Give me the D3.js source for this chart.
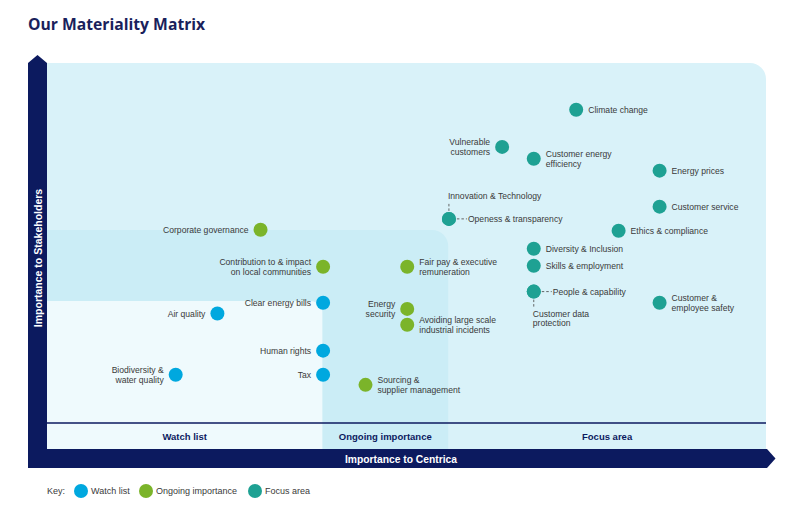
<!DOCTYPE html>
<html>
<head>
<meta charset="utf-8">
<script src="https://cdn.jsdelivr.net/npm/d3@7/dist/d3.min.js"></script>
<style>
  html, body { margin: 0; padding: 0; background: #ffffff; }
  svg { display: block; }
</style>
</head>
<body>
<svg id="chart" width="804" height="520"></svg>
<script>
// ---------------- DATA ----------------
const title = "Our Materiality Matrix";
const xAxisTitle = "Importance to Centrica";
const yAxisTitle = "Importance to Stakeholders";

const issues = [
  "Climate change", "Vulnerable\ncustomers", "Customer energy\nefficiency", "Energy prices",
  "Customer service", "Innovation & Technology", "Openess & transparency", "Ethics & compliance",
  "Diversity & Inclusion", "Skills & employment", "People & capability", "Customer data\nprotection",
  "Customer &\nemployee safety", "Corporate governance", "Contribution to & impact\non local communities",
  "Fair pay & executive\nremuneration", "Energy\nsecurity", "Avoiding large scale\nindustrial incidents",
  "Sourcing &\nsupplier management", "Clear energy bills", "Air quality", "Human rights", "Tax",
  "Biodiversity &\nwater quality"
];
// importance to Centrica (0-10)
const importanceCentrica = [
  7.36, 6.33, 6.77, 8.52,
  8.52, 5.59, 5.59, 7.95,
  6.77, 6.77, 6.77, 6.77,
  8.52, 2.97, 3.84,
  5.01, 5.01, 5.01,
  4.43, 3.84, 2.37, 3.84, 3.84,
  1.79
];
// importance to stakeholders (0-10)
const importanceStakeholders = [
  8.70, 7.67, 7.34, 7.01,
  6.01, 5.67, 5.67, 5.34,
  4.84, 4.37, 3.65, 3.65,
  3.34, 5.37, 4.34,
  4.34, 3.17, 2.73,
  1.06, 3.34, 3.04, 2.01, 1.34,
  1.34
];
const issueGroup = [
  "Focus area", "Focus area", "Focus area", "Focus area",
  "Focus area", "Focus area", "Focus area", "Focus area",
  "Focus area", "Focus area", "Focus area", "Focus area",
  "Focus area", "Ongoing importance", "Ongoing importance",
  "Ongoing importance", "Ongoing importance", "Ongoing importance",
  "Ongoing importance", "Watch list", "Watch list", "Watch list", "Watch list",
  "Watch list"
];
// label placement relative to its dot
const labelSide = [
  "right", "left", "right", "right",
  "right", "leaderUp", "leaderRight", "right",
  "right", "right", "leaderRight", "leaderDown",
  "right", "left", "left",
  "right", "left", "right",
  "right", "left", "left", "left", "left",
  "left"
];

const groups = ["Watch list", "Ongoing importance", "Focus area"];
// upper bounds of each zone (x = Centrica, y = Stakeholders), 0-10 scale
const zoneMaxX = [3.83, 5.58, 10];
const zoneMaxY = [3.39, 5.36, 10];

// ---------------- STYLE ----------------
const navy = "#0c1a5f";
const groupColor = d3.scaleOrdinal().domain(groups).range(["#00a8df", "#7bb42a", "#1ea193"]);
const zoneFill = d3.scaleOrdinal().domain(groups).range(["#effafd", "#cbedf6", "#d9f2f9"]);
const labelFont = "'Liberation Sans', Arial, Helvetica, sans-serif";

const svg = d3.select("#chart");

// ---------------- SCALES ----------------
const plot = { left: 47, right: 766, top: 63, bottom: 423, stripBottom: 449 };
const x = d3.scaleLinear().domain([0, 10]).range([plot.left, plot.right]);
const y = d3.scaleLinear().domain([0, 10]).range([plot.bottom, plot.top]);

// title
svg.append("text")
  .attr("x", 28).attr("y", 30)
  .attr("font-family", "'Open Sans', sans-serif")
  .attr("font-weight", 700).attr("font-size", 15.7)
  .attr("fill", "#1a1f5c")
  .text(title);

// zones: drawn from largest to smallest, rounded top-right corner
function zonePath(x1, yTop, r) {
  const x0 = plot.left, yB = plot.stripBottom;
  return `M${x0},${yB}V${yTop}H${x1 - r}A${r},${r} 0 0 1 ${x1},${yTop + r}V${yB}Z`;
}
const zoneOrder = [2, 1, 0];
svg.append("g").selectAll("path")
  .data(zoneOrder)
  .join("path")
  .attr("d", i => zonePath(x(zoneMaxX[i]), y(zoneMaxY[i]), i === 0 ? 12 : 16))
  .attr("fill", i => zoneFill(groups[i]));

// divider line above strip
svg.append("line")
  .attr("x1", plot.left).attr("x2", plot.right)
  .attr("y1", plot.bottom).attr("y2", plot.bottom)
  .attr("stroke", navy).attr("stroke-width", 1.6);

// strip labels
svg.append("g").selectAll("text")
  .data(groups)
  .join("text")
  .attr("x", (g, i) => (x(i === 0 ? 0 : zoneMaxX[i - 1]) + x(zoneMaxX[i])) / 2)
  .attr("y", (plot.bottom + plot.stripBottom) / 2 + 3.5)
  .attr("text-anchor", "middle")
  .attr("font-family", labelFont).attr("font-weight", 700).attr("font-size", 9.5)
  .attr("fill", navy)
  .text(g => g);

// vertical axis bar with arrow
svg.append("path")
  .attr("d", `M28,${plot.stripBottom}V${plot.top}L37.5,55L${plot.left},${plot.top}V${plot.stripBottom}Z`)
  .attr("fill", navy);
// horizontal axis bar with arrow
svg.append("path")
  .attr("d", `M28,${plot.stripBottom}H767L775.5,${(plot.stripBottom + 468) / 2}L767,468H28Z`)
  .attr("fill", navy);

svg.append("text")
  .attr("x", 401).attr("y", 462.5)
  .attr("text-anchor", "middle")
  .attr("font-family", labelFont).attr("font-weight", 700).attr("font-size", 10.3)
  .attr("fill", "#ffffff")
  .text(xAxisTitle);

svg.append("text")
  .attr("transform", `translate(41.5,258) rotate(-90)`)
  .attr("text-anchor", "middle")
  .attr("font-family", labelFont).attr("font-weight", 700).attr("font-size", 10.5)
  .attr("fill", "#ffffff")
  .text(yAxisTitle);

// ---------------- POINTS ----------------
const data = issues.map((name, i) => ({
  name, cx: importanceCentrica[i], sy: importanceStakeholders[i],
  group: issueGroup[i], side: labelSide[i]
}));

const r = 7;
const lineH = 9.6;
const labelColor = "#3a3a3a";
const pts = svg.append("g");

// leader lines
data.forEach(d => {
  const px = x(d.cx), py = y(d.sy);
  let seg = null;
  if (d.side === "leaderUp") seg = [px, py - r - 1, px, py - r - 10];
  if (d.side === "leaderDown") seg = [px, py + r + 1, px, py + r + 10];
  if (d.side === "leaderRight") seg = [px + r + 1, py, px + r + 11, py];
  if (seg) {
    pts.append("line")
      .attr("x1", seg[0]).attr("y1", seg[1]).attr("x2", seg[2]).attr("y2", seg[3])
      .attr("stroke", "#555").attr("stroke-width", 0.9)
      .attr("stroke-dasharray", "2.5,2");
  }
});

pts.selectAll("circle")
  .data(data)
  .join("circle")
  .attr("cx", d => x(d.cx))
  .attr("cy", d => y(d.sy))
  .attr("r", r)
  .attr("fill", d => groupColor(d.group));

data.forEach(d => {
  const px = x(d.cx), py = y(d.sy);
  const lines = d.name.split("\n");
  let tx, anchor, firstY;
  const n = lines.length;
  if (d.side === "right") { tx = px + r + 5; anchor = "start"; firstY = py - (n - 1) * lineH / 2 + 3.2; }
  else if (d.side === "left") { tx = px - r - 5; anchor = "end"; firstY = py - (n - 1) * lineH / 2 + 3.2; }
  else if (d.side === "leaderRight") { tx = px + r + 12; anchor = "start"; firstY = py + 3.2; }
  else if (d.side === "leaderUp") { tx = px - 1; anchor = "start"; firstY = py - r - 12.5; }
  else if (d.side === "leaderDown") { tx = px - 1; anchor = "start"; firstY = py + r + 18; }
  const t = pts.append("text")
    .attr("font-family", labelFont).attr("font-size", 8.6)
    .attr("fill", labelColor)
    .attr("text-anchor", anchor);
  lines.forEach((ln, k) => {
    t.append("tspan").attr("x", tx).attr("y", firstY + k * lineH).text(ln);
  });
});

// ---------------- KEY ----------------
const key = svg.append("g");
key.append("text")
  .attr("x", 47).attr("y", 494)
  .attr("font-family", labelFont).attr("font-size", 9)
  .attr("fill", labelColor)
  .text("Key:");
const keyX = [81, 146, 255];
groups.forEach((g, i) => {
  key.append("circle").attr("cx", keyX[i]).attr("cy", 491).attr("r", 7).attr("fill", groupColor(g));
  key.append("text")
    .attr("x", keyX[i] + 10).attr("y", 494)
    .attr("font-family", labelFont).attr("font-size", 9)
    .attr("fill", labelColor)
    .text(g);
});
</script>
</body>
</html>
